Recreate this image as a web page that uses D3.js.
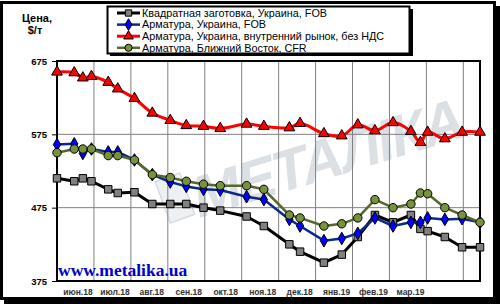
<!DOCTYPE html>
<html><head><meta charset="utf-8">
<script src="https://cdn.jsdelivr.net/npm/d3@7"></script>
<style>body{margin:0;background:#fff;}svg{display:block;font-family:"Liberation Sans",Arial,sans-serif;}</style>
</head><body><svg id="c" width="500" height="304"></svg>
<script>
const dates = ["2018-06-01","2018-06-15","2018-06-22","2018-06-29","2018-07-13","2018-07-21","2018-08-04","2018-08-19","2018-09-03","2018-09-16","2018-09-30","2018-10-14","2018-11-05","2018-11-19","2018-12-10","2018-12-19","2019-01-08","2019-01-23","2019-02-05","2019-02-18","2019-03-04","2019-03-19","2019-03-27","2019-04-02","2019-04-16","2019-04-30","2019-05-15"];
const billetFOB = [515,511,515,511,500,495,496,480,480,480,475,471,463,450,425,415,400,411,435,465,455,465,446,443,435,421,421];
const rebarFOB = [561,562,549,555,551,551,540,520,510,504,500,499,490,486,459,450,430,433,440,461,450,455,455,461,459,460,455];
const rebarDomestic = [660,659,652,654,646,637,624,604,594,587,586,583,589,586,584,590,576,573,588,580,591,579,564,578,569,578,578];
const rebarMENA = [550,555,555,555,546,546,540,520,516,511,507,505,505,500,465,461,450,453,461,486,475,480,495,494,475,465,455];
const seriesNames = ["Квадратная заготовка, Украина, FOB","Арматура, Украина, FOB","Арматура, Украина, внутренний рынок, без НДС","Арматура, Ближний Восток, CFR"];
const yTicks = [375,475,575,675];
const monthLabels = ["июн.18","июл.18","авг.18","сен.18","окт.18","ноя.18","дек.18","янв.19","фев.19","мар.19"];

function mIdx(s){const [y,m,d]=s.split("-").map(Number);const dim=new Date(y,m,0).getDate();return (y-2018)*12+(m-6)+(d-1)/dim;}
const xs = dates.map(mIdx);

const svg = d3.select("#c");
const L=57, R=480, T=61, B=281;
const x = d3.scaleLinear().domain([0, xs[xs.length-1]]).range([L,R]);
const y = d3.scaleLinear().domain([375,675]).range([B,T]);

// outer frame with shadow
svg.append("rect").attr("x",495).attr("y",6).attr("width",5).attr("height",298).attr("fill","#000");
svg.append("rect").attr("x",4).attr("y",299).attr("width",496).attr("height",5).attr("fill","#000");
svg.append("rect").attr("x",1.5).attr("y",2.5).attr("width",493).attr("height",296).attr("fill","#fff").attr("stroke","#000").attr("stroke-width",3);

// watermark
const wm = svg.append("g").attr("transform","translate(330,178) rotate(-17) skewX(-12)");
wm.append("text").attr("text-anchor","middle").attr("font-size",58).attr("font-weight","bold")
  .attr("fill","#cdd4db").attr("opacity",0.7).attr("letter-spacing",-2).text("МЕТАЛІКА");
svg.append("rect").attr("x",162).attr("y",176).attr("width",26).attr("height",44)
  .attr("transform","rotate(-20,175,198)").attr("fill","#eef1f4").attr("stroke","#d5dbe1").attr("stroke-width",1.5);

// grid
const months = d3.range(1,12);
svg.append("g").selectAll("line").data(months).join("line")
  .attr("x1",d=>x(d)).attr("x2",d=>x(d)).attr("y1",T).attr("y2",B)
  .attr("stroke","#808080").attr("stroke-width",1);
svg.append("g").selectAll("line").data(yTicks.slice(1,3)).join("line")
  .attr("x1",L).attr("x2",R).attr("y1",d=>y(d)).attr("y2",d=>y(d))
  .attr("stroke","#808080").attr("stroke-width",1);

// y axis
const yAxis = d3.axisLeft(y).tickValues(yTicks).tickSize(5).tickSizeOuter(0).tickPadding(5);
const ya = svg.append("g").attr("transform",`translate(${L},0)`).call(yAxis);
ya.select(".domain").remove();
ya.selectAll("line").attr("stroke","#000");
ya.selectAll("text").attr("font-size",9.5).attr("font-weight","bold").attr("fill","#000").attr("font-family","Liberation Sans,Arial,sans-serif");

// x labels
const xAxis = d3.axisBottom(x).tickValues(d3.range(0,10).map(i=>i+0.5)).tickFormat((d,i)=>monthLabels[i]).tickSize(0).tickPadding(8);
const xa = svg.append("g").attr("transform",`translate(2,${B})`).call(xAxis);
xa.select(".domain").remove();
xa.selectAll("text").attr("font-size",8.5).attr("font-weight","bold").attr("fill","#333").attr("font-family","Liberation Sans,Arial,sans-serif");

// plot border
svg.append("rect").attr("x",L).attr("y",T).attr("width",R-L).attr("height",B-T).attr("fill","none").attr("stroke","#000").attr("stroke-width",2);

// series
const cfg = [
  {vals:billetFOB, line:"#000000", w:3, fill:"#808080", shape:"square", curve:d3.curveLinear},
  {vals:rebarFOB, line:"#0a2a8a", w:2.5, fill:"#0000ff", shape:"diamond", curve:d3.curveLinear},
  {vals:rebarDomestic, line:"#ff0000", w:3, fill:"#ff0000", shape:"triangle", curve:d3.curveCatmullRom},
  {vals:rebarMENA, line:"#56692b", w:2.5, fill:"#77933c", shape:"circle", curve:d3.curveLinear}
];
const symType = {square:d3.symbolSquare, diamond:d3.symbolDiamond, triangle:d3.symbolTriangle, circle:d3.symbolCircle};
const symSize = {square:56, diamond:46, triangle:50, circle:56};
function drawMarker(g, c, px, py, s){
  g.append("path").attr("d",d3.symbol().type(symType[c.shape]).size(s||symSize[c.shape])())
   .attr("transform",`translate(${px},${py})`).attr("fill",c.fill).attr("stroke","#000").attr("stroke-width",1);
}
cfg.forEach(c=>{
  const g = svg.append("g");
  const pts = c.vals.map((v,i)=>[x(xs[i]), y(v)]);
  g.append("path").attr("d",d3.line().curve(c.curve)(pts)).attr("fill","none")
   .attr("stroke",c.line).attr("stroke-width",c.w).attr("stroke-linejoin","round");
  pts.forEach(p=>drawMarker(g,c,p[0],p[1]));
});

// www label
svg.append("text").attr("x",58).attr("y",276).attr("font-family","Liberation Serif,Times New Roman,serif")
  .attr("font-weight","bold").attr("font-size",17.5).attr("fill","#0000cc").text("www.metalika.ua");

// y title
svg.append("text").attr("x",37).attr("y",22).attr("text-anchor","middle").attr("font-size",11).attr("font-weight","bold").text("Цена,");
svg.append("text").attr("x",35).attr("y",34).attr("text-anchor","middle").attr("font-size",11).attr("font-weight","bold").text("$/т");

// legend
const lg = svg.append("g");
lg.append("rect").attr("x",110).attr("y",9).attr("width",303).attr("height",47).attr("fill","#000");
lg.append("rect").attr("x",107.5).attr("y",6.5).attr("width",302).attr("height",47).attr("fill","#fff").attr("stroke","#000").attr("stroke-width",2);
cfg.forEach((c,i)=>{
  const cy = 13 + i*11.6;
  lg.append("line").attr("x1",117).attr("x2",140).attr("y1",cy).attr("y2",cy).attr("stroke",c.line).attr("stroke-width",c.w);
  drawMarker(lg,c,128.5,cy,40);
  lg.append("text").attr("x",142).attr("y",cy+3.8).attr("font-size",10.8).attr("fill","#000").text(seriesNames[i]);
});
</script></body></html>
